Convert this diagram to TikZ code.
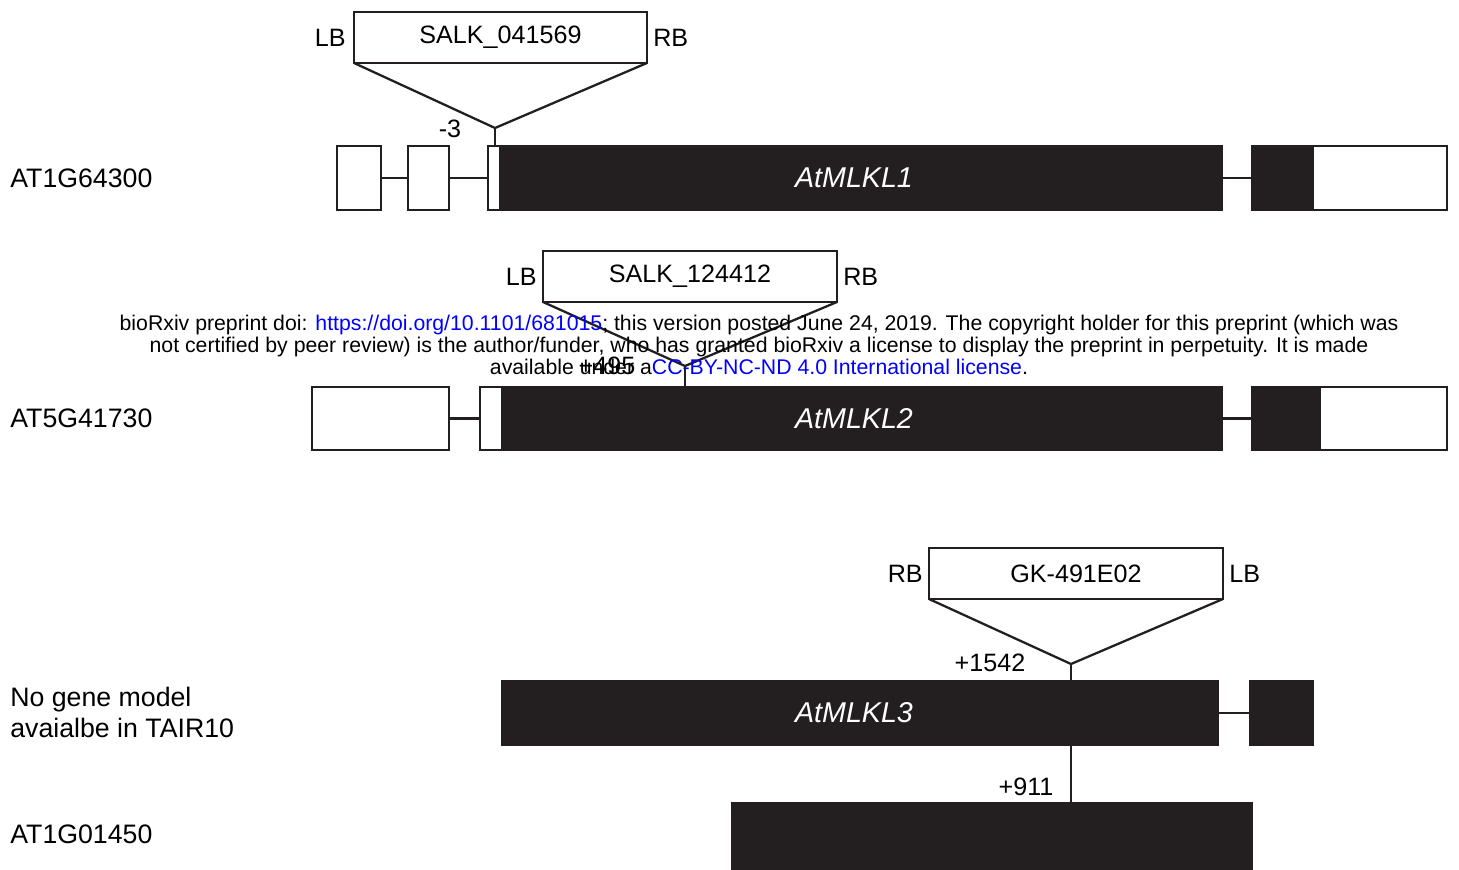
\documentclass[tikz,border=0pt]{standalone}
\usepackage{fontspec}
\setmainfont{Liberation Sans}
\usetikzlibrary{positioning}
\definecolor{cdsblack}{HTML}{231F20}
\definecolor{linkblue}{HTML}{0000FF}
\tikzset{
  exon/.style={draw=cdsblack, fill=white, line width=1.3pt, inner sep=0pt, outer sep=0pt, minimum height=1.28cm},
  cds/.style={draw=cdsblack, fill=cdsblack, line width=1.3pt, inner sep=0pt, outer sep=0pt, minimum height=1.28cm},
  intron/.style={draw=cdsblack, line width=1.3pt},
  tdna/.style={draw=cdsblack, fill=white, line width=1.3pt, inner sep=0pt, outer sep=0pt, minimum width=5.88cm, minimum height=1.02cm, font=\fontsize{14.3}{16}\selectfont},
  lbl/.style={font=\fontsize{14.3}{16}\selectfont, inner sep=0pt},
  locus/.style={font=\fontsize{15.2}{17.6}\selectfont, inner sep=0pt, anchor=west, align=left},
  gene/.style={font=\fontsize{16.3}{18}\selectfont\itshape, text=white, inner sep=0pt},
}
\begin{document}
\begin{tikzpicture}[x=0.02cm, y=-0.02cm]
  \useasboundingbox (0,0) rectangle (1459,869);
  % AT1G64300
  \node[locus] (n1) at (10,178) {AT1G64300};
  \node[exon, minimum width=0.88cm] (e11) at (359,178) {};
  \node[exon, minimum width=0.82cm] (e12) at (428.5,178) {};
  \node[exon, minimum width=0.24cm] (e13) at (494,178) {};
  \node[cds, minimum width=14.44cm] (c11) at (861,178) {};
  \node[cds, minimum width=1.22cm] (c12) at (1282.5,178) {};
  \node[exon, minimum width=2.68cm] (u11) at (1380,178) {};
  \draw[intron] (e11) -- (e12);
  \draw[intron] (e12) -- (e13);
  \draw[intron] (c11) -- (c12);
  \node[gene] (g1) at (854,178) {AtMLKL1};
  \node[tdna, minimum width=5.86cm] (t1) at (500.5,37.5) {SALK\_041569};
  \node[lbl, left=0.16cm of t1] (lb1) {LB};
  \node[lbl, right=0.12cm of t1] (rb1) {RB};
  \coordinate (p1) at (495,128);
  \draw[intron] (t1.south west) -- (p1) -- (t1.south east);
  \draw[intron] (p1) -- (p1 |- e13.north);
  \node[lbl] (s1) at (450,129) {-3};
  % AT5G41730
  \node[locus] (n2) at (10,418.5) {AT5G41730};
  \node[exon, minimum width=2.74cm, minimum height=1.26cm] (e21) at (380.5,418.5) {};
  \node[exon, minimum width=0.44cm, minimum height=1.26cm] (e22) at (491,418.5) {};
  \node[cds, minimum width=14.4cm, minimum height=1.26cm] (c21) at (862,418.5) {};
  \node[cds, minimum width=1.36cm, minimum height=1.26cm] (c22) at (1286,418.5) {};
  \node[exon, minimum width=2.54cm, minimum height=1.26cm] (u21) at (1383.5,418.5) {};
  \draw[intron] (e21) -- (e22);
  \draw[intron] (c21) -- (c22);
  \node[gene] (g2) at (854,418.5) {AtMLKL2};
  \node[tdna] (t2) at (690,276.5) {SALK\_124412};
  \node[lbl, left=0.12cm of t2] (lb2) {LB};
  \node[lbl, right=0.12cm of t2] (rb2) {RB};
  \coordinate (p2) at (685,366);
  \draw[intron] (t2.south west) -- (p2) -- (t2.south east);
  \draw[intron] (p2) -- (p2 |- c21.north);
  \node[lbl] (s2) at (607,366) {+495};
  % AtMLKL3, no gene model
  \node[locus] (n3) at (10,712.5) {No gene model\\avaialbe in TAIR10};
  \node[cds, minimum width=14.32cm] (c31) at (860,713) {};
  \node[cds, minimum width=1.26cm] (c32) at (1281.5,713) {};
  \draw[intron] (c31) -- (c32);
  \node[gene] (g3) at (854,713) {AtMLKL3};
  \node[tdna] (t3) at (1076,573.5) {GK-491E02};
  \node[lbl, left=0.12cm of t3] (rb3) {RB};
  \node[lbl, right=0.12cm of t3] (lb3) {LB};
  \coordinate (p3) at (1071,664);
  \draw[intron] (t3.south west) -- (p3) -- (t3.south east);
  \draw[intron] (p3) -- (p3 |- c31.north);
  \node[lbl] (s3) at (990,663) {+1542};
  % AT1G01450
  \node[locus] (n4) at (10,834) {AT1G01450};
  \node[cds, minimum width=10.4cm, minimum height=1.32cm] (c41) at (992,836) {};
  \draw[intron] (p3 |- c31.south) -- (p3 |- c41.north);
  \node[lbl] (s4) at (1026,787) {+911};
  % preprint notice
  \node[inner sep=0pt, font=\fontsize{12.1}{12.2}\selectfont] (wm) at (759,348) {%
    \begin{tabular}{@{}c@{}}
      bioRxiv preprint doi: \textcolor{linkblue}{https://doi.org/10.1101/681015}; this version posted June 24, 2019. The copyright holder for this preprint (which was\\
      not certified by peer review) is the author/funder, who has granted bioRxiv a license to display the preprint in perpetuity. It is made\\
      available under a\textcolor{linkblue}{CC-BY-NC-ND 4.0 International license}.
    \end{tabular}};
\end{tikzpicture}
\end{document}
